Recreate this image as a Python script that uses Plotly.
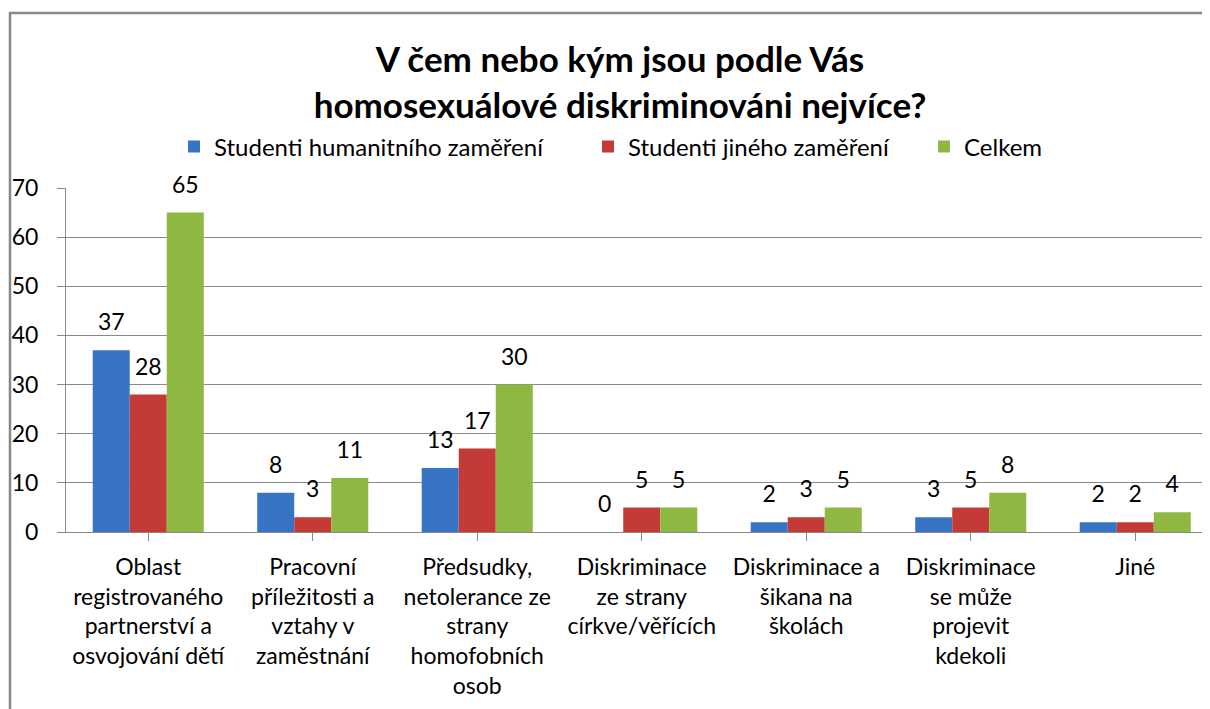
import plotly.graph_objects as go

categories = [
    "Oblast<br>registrovaného<br>partnerství a<br>osvojování dětí",
    "Pracovní<br>příležitosti a<br>vztahy v<br>zaměstnání",
    "Předsudky,<br>netolerance ze<br>strany<br>homofobních<br>osob",
    "Diskriminace<br>ze strany<br>církve/věřících",
    "Diskriminace a<br>šikana na<br>školách",
    "Diskriminace<br>se může<br>projevit<br>kdekoli",
    "Jiné",
]
series_names = ["Studenti humanitního zaměření", "Studenti jiného zaměření", "Celkem"]
humanitni = [37, 8, 13, 0, 2, 3, 2]
jine = [28, 3, 17, 5, 3, 5, 2]
celkem = [65, 11, 30, 5, 5, 8, 4]
y_ticks = [0, 10, 20, 30, 40, 50, 60, 70]

colors = ["#3874c4", "#c43a37", "#8fb842"]
FONT = "Lato"

W, H = 1210, 709
OFF = 8  # page body margin offset


def fx(X):
    return X - OFF


def fy(Y):
    return Y - OFF


L = fx(66)
T = fy(188)
B = H - fy(532)
R = 0
pw, ph = W - L - R, H - T - B


def px(X):
    return (fx(X) - L) / pw


def py(Y):
    return (H - B - fy(Y)) / ph


legend_ids = ["legend", "legend2", "legend3"]
legend_left = [174, 588, 924]

fig = go.Figure()
xs = list(range(len(categories)))
for name, vals, col, lid in zip(series_names, [humanitni, jine, celkem], colors, legend_ids):
    fig.add_trace(go.Bar(
        x=xs, y=vals, name=name, legend=lid,
        marker=dict(color=col, line=dict(width=0)),
        hoverinfo="y+name",
    ))
for name, vals in zip(series_names, [humanitni, jine, celkem]):
    fig.add_trace(go.Scatter(
        x=xs, y=vals, mode="markers+text", showlegend=False,
        text=[str(v) for v in vals], textposition="top center",
        textfont=dict(family=FONT, size=23, color="#000"),
        marker=dict(size=21, opacity=0),
        cliponaxis=False, hoverinfo="skip", name=name,
    ))

legend_common = dict(
    orientation="h", yanchor="middle", y=py(147), xanchor="left",
    font=dict(family=FONT, size=24, color="#000"),
    bgcolor="rgba(0,0,0,0)",
)

fig.update_layout(
    width=W, height=H,
    margin=dict(l=L, r=R, t=T, b=B),
    paper_bgcolor="white", plot_bgcolor="white",
    barmode="group", bargap=0.325, bargroupgap=0,
    scattermode="group", scattergap=0.325,
    font=dict(family=FONT, size=23, color="#000"),
    title=dict(
        text="V čem nebo kým jsou podle Vás<br>homosexuálové diskriminováni nejvíce?",
        font=dict(family=FONT, size=35, color="#000", weight="bold"),
        x=fx(620) / W, xref="container", xanchor="center",
        y=1 - fy(72) / H, yref="container", yanchor="middle",
    ),
    legend=dict(legend_common, x=px(legend_left[0])),
    legend2=dict(legend_common, x=px(legend_left[1])),
    legend3=dict(legend_common, x=px(legend_left[2])),
    xaxis=dict(
        tickmode="array", tickvals=xs, ticktext=categories,
        range=[-0.5, -0.5 + pw / 164.5],
        showgrid=False, showline=True, linecolor="#888", linewidth=1,
        ticks="outside", tickson="boundaries", ticklen=8, tickcolor="#888",
        tickangle=0, ticklabelstandoff=6,
        tickfont=dict(family=FONT, size=23, color="#000"),
        fixedrange=True,
    ),
    yaxis=dict(
        range=[0, 70], tickvals=y_ticks,
        showgrid=True, gridcolor="#8a8a8a", gridwidth=1,
        showline=True, linecolor="#888", linewidth=1,
        ticks="outside", ticklen=8, tickcolor="#888",
        ticklabelstandoff=14,
        tickfont=dict(family=FONT, size=23, color="#000"),
        zeroline=False,
    ),
    shapes=[dict(
        type="path", xref="paper", yref="paper",
        path=f"M {px(10)} {py(H + 20)} L {px(10)} {py(13)} L {px(W + 20)} {py(13)}",
        line=dict(color="#888", width=2.5),
    )],
)

fig.write_html("out.html")
